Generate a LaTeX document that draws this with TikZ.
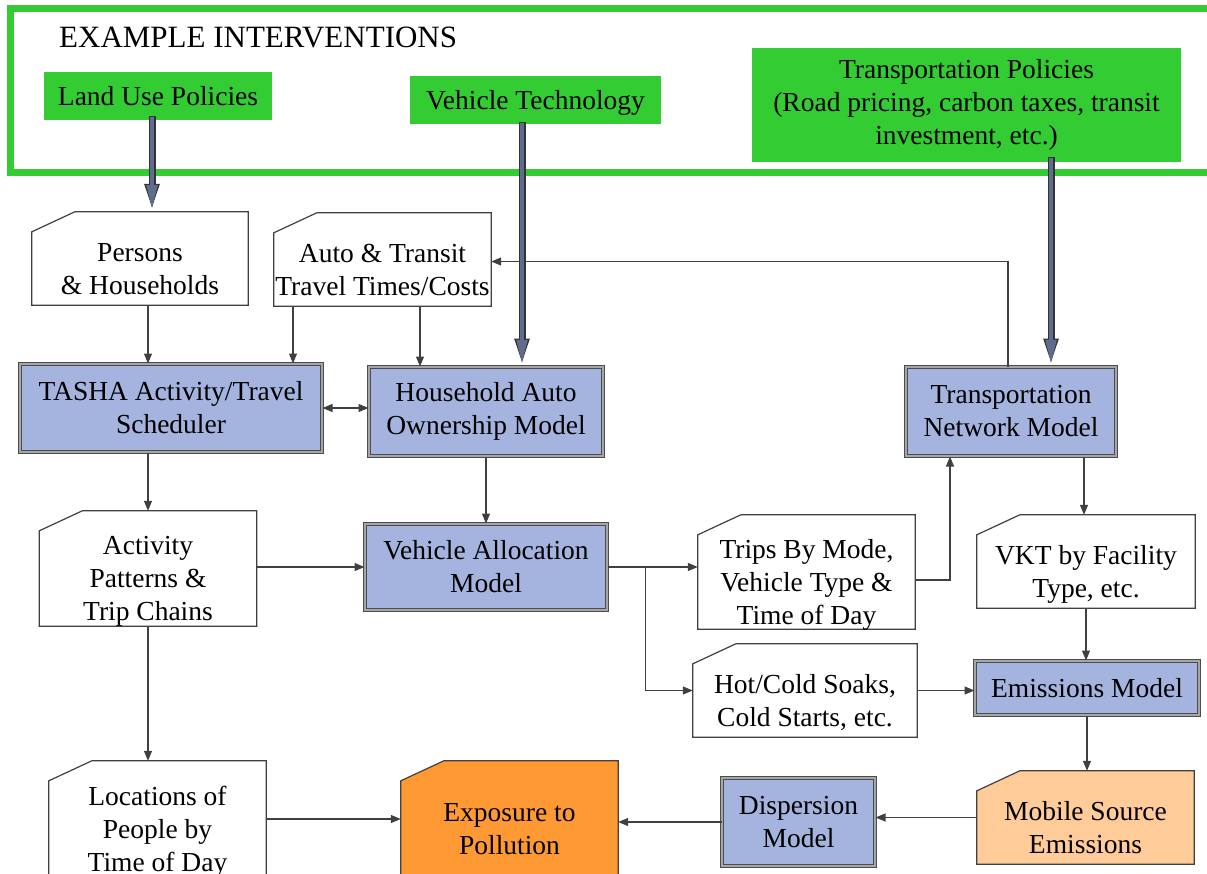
\documentclass[tikz,border=0pt]{standalone}
\usepackage{fontspec}
\setmainfont{Liberation Serif}
\usetikzlibrary{arrows.meta}
\pgfdeclarelayer{back}
\pgfsetlayers{back,main}
\definecolor{polgreen}{RGB}{51,204,51}
\definecolor{modblue}{RGB}{164,180,222}
\definecolor{expor}{RGB}{255,153,51}
\definecolor{mobor}{RGB}{255,204,153}
\definecolor{slate}{RGB}{96,108,140}
\newcommand{\cardtxt}[1]{\raisebox{-19pt}[0pt][0pt]{\begin{tabular}{@{}c@{}}#1\end{tabular}}}

\begin{document}
\begin{tikzpicture}[x=1pt,y=1pt,yscale=-1,
  every node/.style={font=\fontsize{27.5}{33}\selectfont, inner sep=0pt, align=center},
  >={Triangle[length=10pt,width=8pt]},
  policy/.style={fill=polgreen, minimum height=48pt},
  model/.style={fill=modblue, draw=black!70, double=black!35, double distance=1.5pt, line width=1pt},
  card/.style={minimum width=217pt, minimum height=93pt},
  link/.style={draw=black!75, line width=1.2pt, ->},
  bigout/.style={draw=black!80, line width=7pt, -{Triangle[length=28pt,width=13pt]}},
  bigin/.style={draw=slate, line width=4.5pt, shorten >=1.6pt, shorten <=1.2pt, -{Triangle[length=25pt,width=10pt]}}]
\useasboundingbox (0,0) rectangle (1207,873);

% interventions
\draw[polgreen, line width=7pt] (10.5,8) rectangle (1216,172.5);
\node[anchor=base west, font=\fontsize{31}{37}\selectfont] (title) at (59,47) {EXAMPLE INTERVENTIONS};
\node[policy, minimum width=228pt] (lup) at (158,96) {Land Use Policies};
\node[policy, minimum width=251pt, text depth=0pt] (vtech) at (535.5,100) {Vehicle Technology};
\node[policy, minimum width=429pt, minimum height=114pt] (tpol) at (966.5,105) {Transportation Policies\\(Road pricing, carbon taxes, transit\\investment, etc.)};

% data
\node[card, minimum width=216pt] (pers) at (140,258.5) {\cardtxt{Persons\\\& Households}};
\node[card] (atc) at (382.5,259.5) {\cardtxt{Auto \& Transit\\Travel Times/Costs}};
\node[card, minimum height=115pt] (act) at (148,568.5) {\cardtxt{Activity\\Patterns \&\\Trip Chains}};
\node[card, minimum height=114pt] (trips) at (806.5,572) {\cardtxt{Trips By Mode,\\Vehicle Type \&\\Time of Day}};
\node[card, minimum width=218pt] (vkt) at (1086,561.5) {\cardtxt{VKT by Facility\\Type, etc.}};
\node[card, minimum width=224pt] (hot) at (805,690.5) {\cardtxt{Hot/Cold Soaks,\\Cold Starts, etc.}};
\node[card, minimum height=116pt] (loc) at (157.5,819) {\cardtxt{Locations of\\People by\\Time of Day}};
\node[card, minimum height=116pt] (exp) at (509.5,819) {\cardtxt{Exposure to\\Pollution}};
\node[card] (mob) at (1085.5,817.5) {\cardtxt{Mobile Source\\Emissions}};

% models
\node[model, minimum width=302pt, minimum height=88pt] (tasha) at (171,408) {TASHA Activity/Travel\\Scheduler};
\node[model, minimum width=234pt, minimum height=89pt] (hauto) at (486,411.5) {Household Auto\\Ownership Model};
\node[model, minimum width=210pt, minimum height=89pt] (tnet) at (1011,411.5) {Transportation\\Network Model};
\node[model, minimum width=242pt, minimum height=86pt] (valloc) at (486,567) {Vehicle Allocation\\Model};
\node[model, minimum width=224pt, minimum height=54pt] (emis) at (1087,688) {Emissions Model};
\node[model, minimum width=153pt, minimum height=88pt] (disp) at (798.5,822) {Dispersion\\Model};

\begin{pgfonlayer}{back}
\foreach \n/\c in {pers/white, atc/white, act/white, trips/white, vkt/white, hot/white, loc/white, exp/expor, mob/mobor}
  \draw[draw=black!75, line width=1.2pt, fill=\c] (\n.south west) -- ([yshift=20pt]\n.north west) -- ([xshift=43pt]\n.north west) -- (\n.north east) -- (\n.south east) -- cycle;
\end{pgfonlayer}

% links
\draw[link] ([xshift=8pt]pers.south) -- ([xshift=8pt]pers.south |- tasha.north);
\draw[link] ([xshift=-89.5pt]atc.south) -- ([xshift=-89.5pt]atc.south |- tasha.north);
\draw[link] ([xshift=37.5pt]atc.south) -- ([xshift=37.5pt]atc.south |- hauto.north);
\draw[link, <->] (tasha.east) -- (tasha.east -| hauto.west);
\draw[link] (act.north |- tasha.south) -- (act.north);
\draw[link] (hauto.south) -- (valloc.north);
\draw[link] (valloc.west -| act.east) -- (valloc.west);
\draw[link] (valloc.east) -- (valloc.east -| trips.west);
\draw[link] ([xshift=38pt]valloc.east) |- (hot.west);
\draw[link] ([yshift=8pt]trips.east) -| ([xshift=-61pt]tnet.south);
\draw[link] ([xshift=-3pt]tnet.north) |- ([yshift=2pt]atc.east);
\draw[link] ([xshift=73pt]tnet.south) -- ([xshift=73pt]tnet.south |- vkt.north);
\draw[link] (vkt.south) -- (vkt.south |- emis.north);
\draw[link] (hot.east) -- (hot.east -| emis.west);
\draw[link] (emis.south) -- (emis.south |- mob.north);
\draw[link] (mob.west) -- (mob.west -| disp.east);
\draw[link] (disp.west) -- (disp.west -| exp.east);
\draw[link] (act.south) -- (act.south |- loc.north);
\draw[link] (loc.east) -- (exp.west);

% policy arrows
\foreach \a/\b/\dx/\dy in {lup/pers/-6/-4, vtech/hauto/-13.5/-2, tpol/tnet/84.5/-5} {
  \draw[bigout] ([xshift=\dx pt, yshift=\dy pt]\a.south) -- ([xshift=\dx pt]\a.south |- \b.north);
  \draw[bigin] ([xshift=\dx pt, yshift=\dy pt]\a.south) -- ([xshift=\dx pt]\a.south |- \b.north);
}
\end{tikzpicture}
\end{document}
